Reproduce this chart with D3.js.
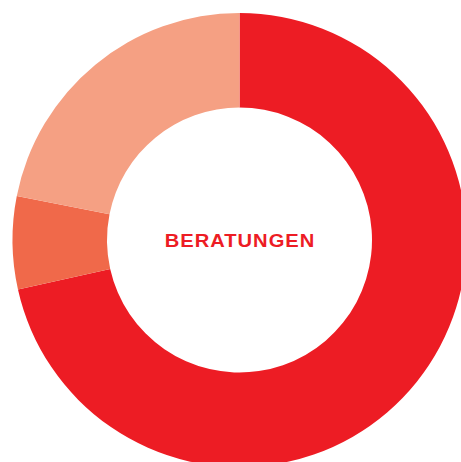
<!DOCTYPE html>
<meta charset="utf-8">
<style>
body { margin: 0; background: #fff; }
.label { font-family: "Liberation Sans", Arial, sans-serif; font-weight: bold; }
</style>
<body>
<svg width="461" height="462"></svg>
<script src="https://d3js.org/d3.v7.min.js"></script>
<script>

var categories = ["A", "B", "C"];
var values = [71.5, 6.6, 21.9];
var colors = ["#ED1C24", "#F0694A", "#F5A083"];
var title = "BERATUNGEN";

var svg = d3.select("svg"),
    cx = 239.5,
    cy = 240;

var color = d3.scaleOrdinal().domain(categories).range(colors);

var pie = d3.pie().sort(null).value(function(d, i) { return values[i]; });

var arc = d3.arc()
    .innerRadius(132.5)
    .outerRadius(227);

var g = svg.append("g")
    .attr("transform", "translate(" + cx + "," + cy + ")");

g.selectAll("path")
  .data(pie(categories))
  .enter().append("path")
    .attr("d", arc)
    .attr("fill", function(d) { return color(d.data); });

// label is a bit wider than plain Arial bold in the original
g.append("text")
    .attr("class", "label")
    .attr("transform", "translate(0.5,7) scale(1.09,1)")
    .attr("text-anchor", "middle")
    .attr("fill", "#ED1C24")
    .style("font-size", "18.5px")
    .style("letter-spacing", "0.9px")
    .text(title);

</script>
</body>
</html>
